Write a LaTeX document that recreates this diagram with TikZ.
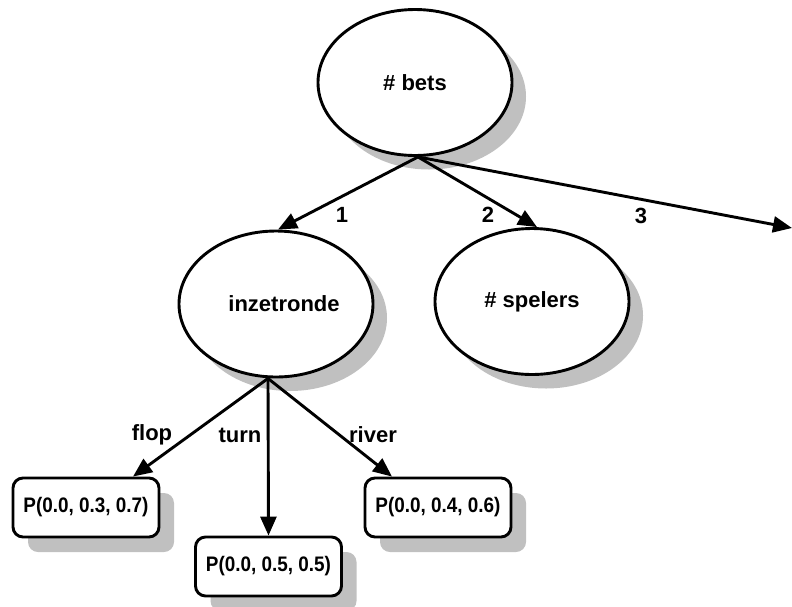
\documentclass[tikz,border=0pt]{standalone}
\usepackage{fontspec}
\setmainfont{Liberation Sans}
\usetikzlibrary{shapes.geometric,shadows,arrows.meta}
\definecolor{shadowgray}{RGB}{192,192,192}
\begin{document}
\begin{tikzpicture}[x=1pt,y=-1pt,
 every node/.style={font=\fontsize{22}{26}\selectfont\bfseries},
 shad/.style={drop shadow={shadow xshift=#1, shadow yshift=-#1, fill=shadowgray, opacity=1}},
 ell/.style={ellipse, draw, line width=2.9pt, fill=white, minimum width=194pt, minimum height=146pt, inner sep=0pt, shad=14pt},
 pbox/.style={rectangle, rounded corners=10pt, draw, line width=2.9pt, fill=white, minimum width=146pt, minimum height=59pt, inner sep=0pt, shad=15pt, font=\fontsize{21}{25}\selectfont\bfseries\addfontfeatures{FakeStretch=0.9}},
 arr/.style={line width=2.9pt, -{Triangle[length=19pt,width=16pt]}},
 elab/.style={inner sep=0pt}]
\useasboundingbox (0,0) rectangle (792,606);
\node[ell] (bets) at (415,82.5) {\# bets};
\node[ell] (inz) at (276,304) {\hspace*{16pt}inzetronde};
\node[ell] (spel) at (532,301.5) {\# spelers};
\node[pbox] (b1) at (86,507.5) {P(0.0, 0.3, 0.7)};
\node[pbox] (b2) at (268.5,566.5) {P(0.0, 0.5, 0.5)};
\node[pbox] (b3) at (438,507.5) {P(0.0, 0.4, 0.6)};
\coordinate (bo) at ([xshift=3pt]bets.south);
\coordinate (io) at ([xshift=-8pt]inz.south);
\coordinate (far) at (792,228);
\draw[arr] (bo) -- ([xshift=2pt]inz.north);
\draw[arr] (bo) -- ([xshift=5pt]spel.north);
\draw[arr] (bo) -- (far);
\draw[arr] (io) -- ([xshift=47pt]b1.north);
\draw[arr] (io) -- (b2.north);
\draw[arr] (io) -- ([xshift=-46pt]b3.north);
\node[elab] (l1) at (342,215) {1};
\node[elab] (l2) at (488,215) {2};
\node[elab] (l3) at (641,216) {3};
\node[elab] (lf) at (152,435) {flop};
\node[elab] (lt) at (240,435) {turn};
\node[elab] (lr) at (373,435) {river};
\end{tikzpicture}
\end{document}
